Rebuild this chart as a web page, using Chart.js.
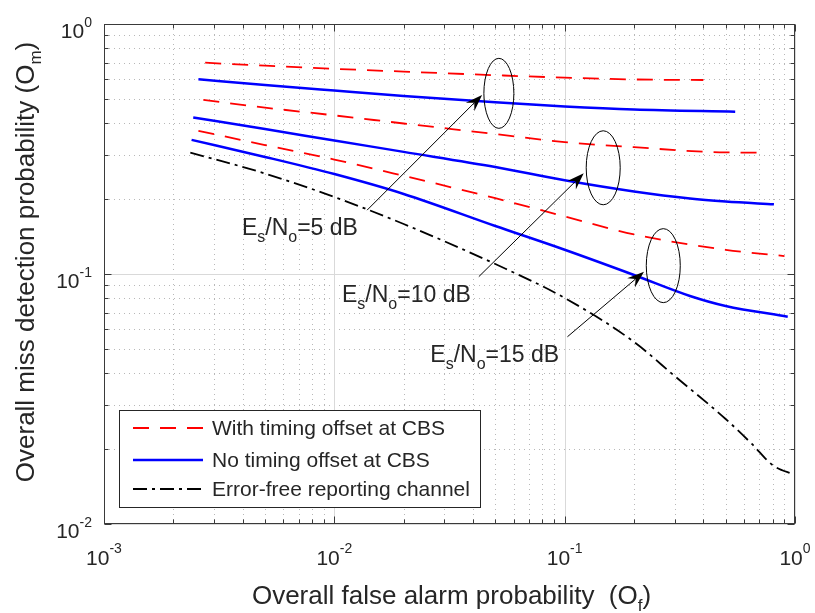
<!DOCTYPE html>
<html><head><meta charset="utf-8">
<script src="https://cdn.jsdelivr.net/npm/chart.js@4.4.0/dist/chart.umd.min.js"></script>
<style>html,body{margin:0;padding:0;background:#fff}</style>
</head><body>
<canvas id="c" width="815" height="613"></canvas>
<script>
// ---------- data ----------
const xRed5   = [0.00275, 0.005, 0.01, 0.02, 0.05, 0.1, 0.2, 0.4];
const yRed5   = [0.700, 0.681, 0.662, 0.645, 0.624, 0.610, 0.600, 0.597];
const xBlue5  = [0.00257, 0.005, 0.01, 0.02, 0.05, 0.1, 0.2, 0.55];
const yBlue5  = [0.601, 0.570, 0.5415, 0.515, 0.486, 0.468, 0.455, 0.446];
const xRed10  = [0.0027, 0.005, 0.01, 0.02, 0.05, 0.1, 0.2, 0.5, 0.70];
const yRed10  = [0.497, 0.463, 0.431, 0.400, 0.363, 0.337, 0.3215, 0.3064, 0.306];
const xBlue10 = [0.00244, 0.005, 0.01, 0.02, 0.05, 0.1, 0.2, 0.35, 0.5, 0.81];
const yBlue10 = [0.423, 0.380, 0.342, 0.308, 0.268, 0.237, 0.2138, 0.2004, 0.195, 0.190];
const xRed15  = [0.00257, 0.005, 0.01, 0.02, 0.05, 0.1, 0.2, 0.5, 0.90];
const yRed15  = [0.374, 0.328, 0.287, 0.247, 0.201, 0.170, 0.144, 0.125, 0.118];
const xBlue15 = [0.0024, 0.005, 0.01, 0.02, 0.05, 0.1, 0.2, 0.35, 0.5, 0.93];
const yBlue15 = [0.344, 0.294, 0.251, 0.209, 0.1556, 0.125, 0.0991, 0.0817, 0.0745, 0.0675];
const xFree   = [0.00237, 0.005, 0.01, 0.02, 0.05, 0.1, 0.2, 0.3, 0.5, 0.65, 0.8, 1.0];
const yFree   = [0.306, 0.2523, 0.2032, 0.1585, 0.1096, 0.0802, 0.0535, 0.0391, 0.0263, 0.0209, 0.0172, 0.0157];

const xTickExponents = [-3, -2, -1, 0];
const yTickExponents = [-2, -1, 0];
const legendLabels = ['With timing offset at CBS', 'No timing offset at CBS', 'Error-free reporting channel'];
const xTitleParts = [['Overall false alarm probability  (O', 0], ['f', 1], [')', 0]];
const yTitleParts = [['Overall miss detection probability (O', 0], ['m', 1], [')', 0]];
const snrValues = ['5', '10', '15'];
const snrLabelX = [0.00397, 0.0108, 0.0261];
const snrLabelY = [0.143, 0.0775, 0.0446];
const arrowFromX = [0.01387, 0.0424, 0.1028];
const arrowFromY = [0.180, 0.0976, 0.0561];
const arrowToX = [0.0438, 0.121, 0.221];
const arrowToY = [0.520, 0.253, 0.102];
const ellipseX = [0.0518, 0.147, 0.268];
const ellipseY = [0.528, 0.266, 0.108];

// ---------- styles ----------
const FONT = '"Liberation Sans", Arial, Helvetica, sans-serif';
const TEXT = '#262626';
const RED = '#ff0000', BLUE = '#0000ff', BLACK = '#000000';
const redDash = [16, 11], freeDash = [14, 5, 3, 5];

function pts(xs, ys) { return xs.map((x, i) => ({ x: x, y: ys[i] })); }
function ds(label, xs, ys, color, width, dash) {
  return { label, data: pts(xs, ys), borderColor: color, borderWidth: width, borderDash: dash,
    pointRadius: 0, fill: false, cubicInterpolationMode: 'monotone' };
}

function drawParts(ctx, parts, x, y, size, subSize, subDrop, align) {
  let total = 0;
  parts.forEach(p => { ctx.font = (p[1] ? subSize : size) + 'px ' + FONT; total += ctx.measureText(p[0]).width; });
  let cx = align === 'center' ? x - total / 2 : (align === 'right' ? x - total : x);
  ctx.textAlign = 'left'; ctx.textBaseline = 'alphabetic';
  parts.forEach(p => {
    ctx.font = (p[1] ? subSize : size) + 'px ' + FONT;
    ctx.fillText(p[0], cx, p[1] ? y + subDrop : y);
    cx += ctx.measureText(p[0]).width;
  });
}

function minorValues(lo, hi) {
  const out = [];
  for (let e = lo; e < hi; e++) for (let m = 2; m <= 9; m++) out.push(m * Math.pow(10, e));
  return out;
}

const decor = {
  id: 'decor',
  beforeDatasetsDraw(chart) {
    const { ctx, chartArea: a, scales: { x, y } } = chart;
    ctx.save();
    ctx.lineWidth = 1;
    ctx.strokeStyle = '#b8b8b8'; ctx.setLineDash([1, 4]);
    minorValues(-3, 0).forEach(v => {
      const p = Math.round(x.getPixelForValue(v)) + 0.5;
      ctx.beginPath(); ctx.moveTo(p, a.top); ctx.lineTo(p, a.bottom); ctx.stroke();
    });
    minorValues(-2, 0).forEach(v => {
      const p = Math.round(y.getPixelForValue(v)) + 0.5;
      ctx.beginPath(); ctx.moveTo(a.left, p); ctx.lineTo(a.right, p); ctx.stroke();
    });
    ctx.setLineDash([]); ctx.strokeStyle = '#d9d9d9';
    xTickExponents.forEach(e => {
      const p = Math.round(x.getPixelForValue(Math.pow(10, e))) + 0.5;
      ctx.beginPath(); ctx.moveTo(p, a.top); ctx.lineTo(p, a.bottom); ctx.stroke();
    });
    yTickExponents.forEach(e => {
      const p = Math.round(y.getPixelForValue(Math.pow(10, e))) + 0.5;
      ctx.beginPath(); ctx.moveTo(a.left, p); ctx.lineTo(a.right, p); ctx.stroke();
    });
    ctx.restore();
  },
  afterDatasetsDraw(chart) {
    const { ctx, chartArea: a, scales: { x, y } } = chart;
    ctx.save();
    ctx.strokeStyle = '#3a3a3a'; ctx.lineWidth = 1; ctx.setLineDash([]);
    const L = Math.round(a.left) + 0.5, R = Math.round(a.right) - 0.5, T = Math.round(a.top) + 0.5, B = Math.round(a.bottom) - 0.5;
    ctx.strokeRect(L, T, R - L, B - T);
    const tickX = (v, len) => { const p = Math.round(x.getPixelForValue(v)) + 0.5;
      ctx.beginPath(); ctx.moveTo(p, B); ctx.lineTo(p, B - len); ctx.moveTo(p, T); ctx.lineTo(p, T + len); ctx.stroke(); };
    const tickY = (v, len) => { const p = Math.round(y.getPixelForValue(v)) + 0.5;
      ctx.beginPath(); ctx.moveTo(L, p); ctx.lineTo(L + len, p); ctx.moveTo(R, p); ctx.lineTo(R - len, p); ctx.stroke(); };
    minorValues(-3, 0).forEach(v => tickX(v, 4));
    minorValues(-2, 0).forEach(v => tickY(v, 4));
    xTickExponents.forEach(e => tickX(Math.pow(10, e), 7));
    yTickExponents.forEach(e => tickY(Math.pow(10, e), 7));

    ctx.fillStyle = TEXT;
    xTickExponents.forEach(e => {
      const p = x.getPixelForValue(Math.pow(10, e));
      drawParts(ctx, [['10', 0], [String(e), 1]], p, a.bottom + 41, 21, 14, -12, 'center');
    });
    yTickExponents.forEach(e => {
      const p = y.getPixelForValue(Math.pow(10, e));
      drawParts(ctx, [['10', 0], [String(e), 1]], a.left - 12, p + 14, 21, 14, -11, 'right');
    });
    drawParts(ctx, xTitleParts, (a.left + a.right) / 2 + 2, a.bottom + 80, 26, 17, 7, 'center');
    ctx.save();
    ctx.translate(34, (a.top + a.bottom) / 2 - 12);
    ctx.rotate(-Math.PI / 2);
    drawParts(ctx, yTitleParts, 0, 0, 26, 17, 7, 'center');
    ctx.restore();

    ctx.strokeStyle = BLACK; ctx.lineWidth = 1;
    const rx = [15, 17, 17], ry = [35, 37, 37];
    ellipseX.forEach((ev, i) => {
      ctx.beginPath();
      ctx.ellipse(x.getPixelForValue(ev), y.getPixelForValue(ellipseY[i]), rx[i], ry[i], 0, 0, 2 * Math.PI);
      ctx.stroke();
    });
    arrowFromX.forEach((fx, i) => {
      const x0 = x.getPixelForValue(fx), y0 = y.getPixelForValue(arrowFromY[i]);
      const x1 = x.getPixelForValue(arrowToX[i]), y1 = y.getPixelForValue(arrowToY[i]);
      const ang = Math.atan2(y1 - y0, x1 - x0);
      const len = 17, half = 6, notch = 11;
      ctx.beginPath(); ctx.moveTo(x0, y0);
      ctx.lineTo(x1 - notch * Math.cos(ang), y1 - notch * Math.sin(ang)); ctx.stroke();
      const bx = x1 - len * Math.cos(ang), by = y1 - len * Math.sin(ang);
      const nx = -Math.sin(ang), ny = Math.cos(ang);
      ctx.fillStyle = BLACK;
      ctx.beginPath();
      ctx.moveTo(x1, y1);
      ctx.lineTo(bx + nx * half, by + ny * half);
      ctx.lineTo(x1 - notch * Math.cos(ang), y1 - notch * Math.sin(ang));
      ctx.lineTo(bx - nx * half, by - ny * half);
      ctx.closePath(); ctx.fill();
    });
    ctx.fillStyle = TEXT;
    snrValues.forEach((s, i) => {
      drawParts(ctx, [['E', 0], ['s', 1], ['/N', 0], ['o', 1], ['=' + s + ' dB', 0]],
        x.getPixelForValue(snrLabelX[i]), y.getPixelForValue(snrLabelY[i]), 23, 16, 7, 'left');
    });

    const lx = a.left + 15, ly = a.bottom - 114, lw = 361, lh = 97;
    ctx.fillStyle = '#ffffff'; ctx.fillRect(lx, ly, lw, lh);
    ctx.strokeStyle = '#262626'; ctx.lineWidth = 1;
    ctx.strokeRect(Math.round(lx) + 0.5, Math.round(ly) + 0.5, lw, lh);
    const rows = [ly + 18, ly + 50, ly + 79];
    const legendDs = [chart.data.datasets[0], chart.data.datasets[1], chart.data.datasets[6]];
    legendDs.forEach((d, i) => {
      ctx.strokeStyle = d.borderColor; ctx.lineWidth = d.borderWidth; ctx.setLineDash(d.borderDash || []);
      ctx.beginPath(); ctx.moveTo(lx + 14, rows[i]); ctx.lineTo(lx + 84, rows[i]); ctx.stroke();
      ctx.setLineDash([]);
      ctx.fillStyle = TEXT; ctx.font = '21px ' + FONT; ctx.textAlign = 'left'; ctx.textBaseline = 'middle';
      ctx.fillText(legendLabels[i], lx + 93, rows[i] + 1);
    });
    ctx.restore();
  }
};

new Chart(document.getElementById('c'), {
  type: 'line',
  data: {
    datasets: [
      ds(legendLabels[0], xRed5, yRed5, RED, 1.8, redDash),
      ds(legendLabels[1], xBlue5, yBlue5, BLUE, 2.5, []),
      ds(legendLabels[0], xRed10, yRed10, RED, 1.8, redDash),
      ds(legendLabels[1], xBlue10, yBlue10, BLUE, 2.5, []),
      ds(legendLabels[0], xRed15, yRed15, RED, 1.8, redDash),
      ds(legendLabels[1], xBlue15, yBlue15, BLUE, 2.5, []),
      ds(legendLabels[2], xFree, yFree, BLACK, 1.8, freeDash)
    ]
  },
  options: {
    responsive: false,
    animation: false,
    layout: { padding: { left: 104, top: 24, right: 20, bottom: 89 } },
    plugins: { legend: { display: false }, tooltip: { enabled: false } },
    scales: {
      x: { type: 'logarithmic', display: false, min: 0.001, max: 1 },
      y: { type: 'logarithmic', display: false, min: 0.01, max: 1 }
    }
  },
  plugins: [decor]
});
</script>
</body></html>
